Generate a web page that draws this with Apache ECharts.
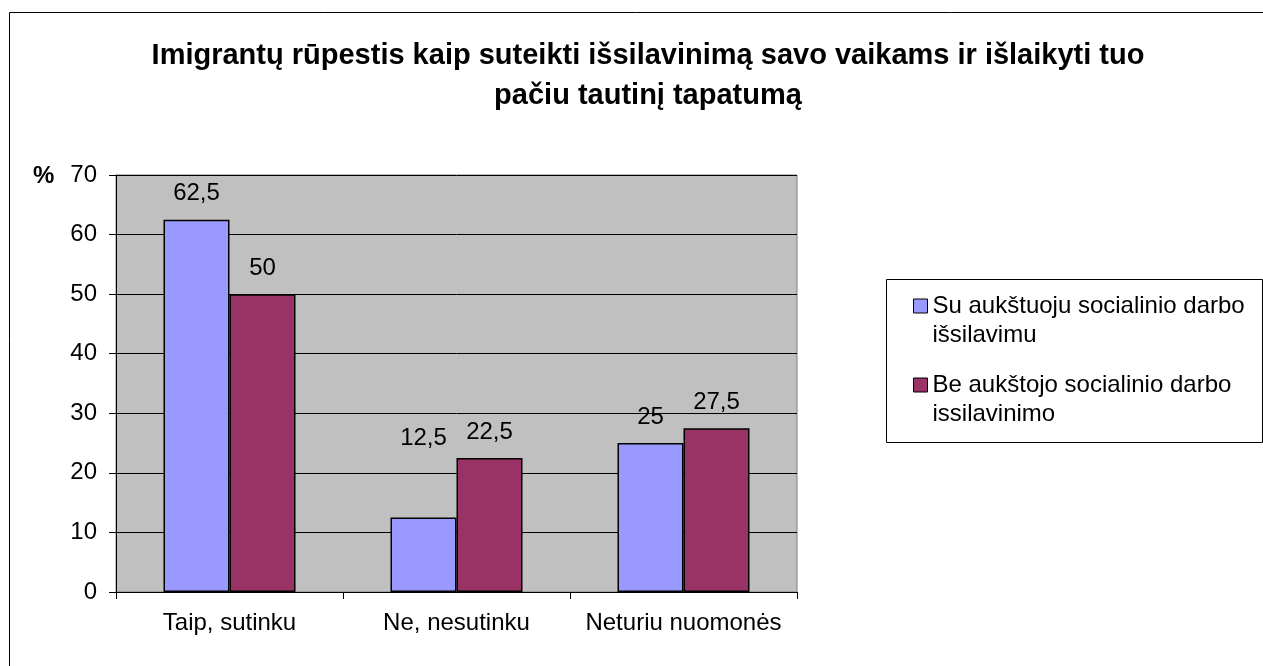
<!DOCTYPE html>
<html>
<head>
<meta charset="utf-8">
<script src="https://cdn.jsdelivr.net/npm/echarts@6/dist/echarts.min.js"></script>
<style>
  html, body { margin: 0; padding: 0; background: #fff; }
  #chart { width: 1263px; height: 666px; }
</style>
</head>
<body>
<div id="chart"></div>
<script>
// duomenys
const categories = ['Taip, sutinku', 'Ne, nesutinku', 'Neturiu nuomonės'];
const seriesNames = ['Su aukštuoju socialinio darbo išsilavimu', 'Be aukštojo socialinio darbo issilavinimo'];
const legendLabels = ['Su aukštuoju socialinio darbo\nišsilavimu', 'Be aukštojo socialinio darbo\nissilavinimo'];
const withHigher = [62.5, 12.5, 25];
const withoutHigher = [50, 22.5, 27.5];
const yTicks = [0, 10, 20, 30, 40, 50, 60, 70];

const font = "'Liberation Sans', Arial, sans-serif";
const chart = echarts.init(document.getElementById('chart'));

const labelStyle = {
  show: true,
  position: 'top',
  distance: 14,
  color: '#000',
  fontFamily: font,
  fontSize: 24,
  formatter: p => String(p.value).replace('.', ',')
};

function legendFor(i, top) {
  return {
    data: [seriesNames[i]],
    orient: 'vertical',
    left: 913,
    top: top,
    padding: 0,
    icon: 'rect',
    itemWidth: 14,
    itemHeight: 14,
    itemStyle: { borderColor: '#000', borderWidth: 1 },
    // empty first line keeps the icon level with the first text line
    formatter: () => '\n' + legendLabels[i],
    textStyle: { fontFamily: font, fontSize: 24, color: '#000', lineHeight: 29 },
    selectedMode: false
  };
}

const option = {
  backgroundColor: '#fff',
  animation: false,
  title: {
    text: 'Imigrantų rūpestis kaip suteikti išsilavinimą savo vaikams ir išlaikyti tuo\npačiu tautinį tapatumą',
    left: 643,
    top: 31,
    textAlign: 'center',
    textStyle: { fontFamily: font, fontSize: 29, fontWeight: 'bold', color: '#000', lineHeight: 40 }
  },
  graphic: [
    { type: 'rect', left: 7, top: 10, shape: { width: 1300, height: 700 }, style: { fill: 'none', stroke: '#000', lineWidth: 1 }, silent: true },
    { type: 'rect', left: 886, top: 279, shape: { width: 376, height: 163 }, style: { fill: '#fff', stroke: '#000', lineWidth: 1 }, silent: true, z: -1 },
    { type: 'text', left: 33, top: 164, style: { text: '%', font: "bold 24px 'Liberation Sans', Arial", fill: '#000' } }
  ],
  legend: [legendFor(0, 262.5), legendFor(1, 341.5)],
  grid: {
    left: 116,
    right: 466,
    top: 175,
    bottom: 74,
    show: true,
    backgroundColor: '#c0c0c0',
    borderColor: '#808080',
    borderWidth: 1
  },
  xAxis: {
    type: 'category',
    data: categories,
    axisLine: { lineStyle: { color: '#000', width: 1 } },
    axisTick: { show: true, length: 7, lineStyle: { color: '#000' } },
    axisLabel: { color: '#000', fontFamily: font, fontSize: 24, margin: 19, interval: 0 }
  },
  yAxis: {
    type: 'value',
    min: yTicks[0],
    max: yTicks[yTicks.length - 1],
    interval: 10,
    axisLine: { show: true, lineStyle: { color: '#000', width: 1 } },
    axisTick: { show: true, length: 7, lineStyle: { color: '#000' } },
    axisLabel: { color: '#000', fontFamily: font, fontSize: 24, margin: 19 },
    splitLine: { lineStyle: { color: '#000', width: 1 } }
  },
  series: [
    {
      name: seriesNames[0],
      type: 'bar',
      barWidth: 66,
      barGap: '0%',
      // Excel put the 12,5 label higher than its bar
      data: withHigher.map((v, i) => i === 1 ? { value: v, label: { offset: [0, -53] } } : v),
      itemStyle: { color: '#9999ff', borderColor: '#000', borderWidth: 1.5 },
      label: labelStyle
    },
    {
      name: seriesNames[1],
      type: 'bar',
      barWidth: 66,
      barGap: '0%',
      data: withoutHigher,
      itemStyle: { color: '#993366', borderColor: '#000', borderWidth: 1.5 },
      label: labelStyle
    }
  ]
};

chart.setOption(option);
</script>
</body>
</html>
